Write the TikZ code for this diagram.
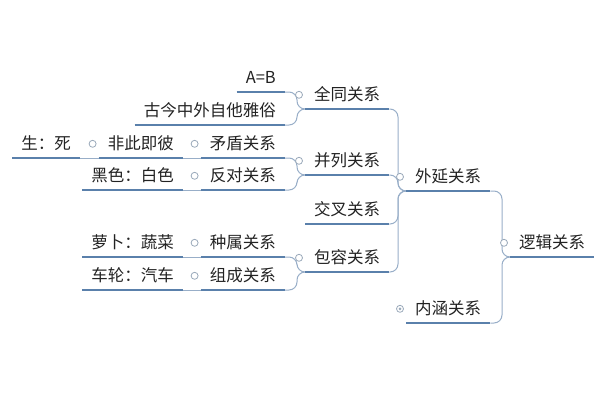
\documentclass[tikz,border=0pt]{standalone}
\usepackage{fontspec}
\setmainfont{Noto Sans CJK SC}
\usepackage{tikz}
\usetikzlibrary{calc,positioning}
\definecolor{LineBlue}{HTML}{5A80AB}
\definecolor{BranchBlue}{HTML}{98AEC8}
\definecolor{KnobGray}{HTML}{9AA9BA}
\definecolor{TextGray}{HTML}{222222}

\begin{document}
\begin{tikzpicture}[
        x=1pt, y=-1pt,
        topic/.style={inner xsep=9pt, inner ysep=4pt, text height=12pt, text depth=4pt, font=\fontsize{16.5}{18}\selectfont, text=TextGray},
        rtopic/.style={topic, anchor=south west},
        ltopic/.style={topic, anchor=south east},
        uline/.style={LineBlue, line width=2.2pt},
        branch/.style={BranchBlue, line width=1pt, rounded corners=8pt},
        knob/.style={KnobGray, fill=white, line width=0.8pt}
      ]
        \useasboundingbox (0,0) rectangle (600,400);

        % Right side topics
        \node[rtopic] (logic) at (510,257) {逻辑关系};
        \node[rtopic] (ext) at (406,191) {外延关系};
        \node[rtopic] (int) at (406,323) {内涵关系};
        \node[rtopic] (same) at (305,109) {全同关系};
        \node[rtopic] (para) at (305,175) {并列关系};
        \node[rtopic] (cross) at (305,224) {交叉关系};
        \node[rtopic] (incl) at (305,272) {包容关系};

        % Left side topics
        \node[ltopic] (ab) at (285,92) {A=B};
        \node[ltopic] (gujin) at (285,125) {古今中外自他雅俗};
        \node[ltopic] (contra) at (285,158) {矛盾关系};
        \node[ltopic] (oppo) at (285,190) {反对关系};
        \node[ltopic] (genus) at (285,257) {种属关系};
        \node[ltopic] (comp) at (285,290) {组成关系};
        \node[ltopic] (either) at (183,158) {非此即彼};
        \node[ltopic] (life) at (80,158) {生：死};
        \node[ltopic] (color) at (183,190) {黑色：白色};
        \node[ltopic] (radish) at (183,257) {萝卜：蔬菜};
        \node[ltopic] (wheel) at (183,290) {车轮：汽车};

        % Bracket branches
        \foreach \c/\p in {ext/logic, int/logic, same/ext, para/ext, cross/ext, incl/ext,
                           ab/same, gujin/same, contra/para, oppo/para, genus/incl, comp/incl}
          \draw[branch] (\c.south east) -| ($(\p.south west)+(-8,0)$) -- (\p.south west);

        % Straight branches
        \foreach \c/\p in {either/contra, life/either, color/oppo, radish/genus, wheel/comp}
          \draw[branch] (\c.south east) -- (\p.south west);

        % Underlines
        \foreach \n in {logic,ext,int,same,para,cross,incl,ab,gujin,contra,oppo,genus,comp,either,life,color,radish,wheel}
          \draw[uline] (\n.south west) -- (\n.south east);

        % Collapse knobs
        \foreach \n in {logic,ext,int,same,para,incl,contra,oppo,genus,comp,either}
          \draw[knob] ($(\n.west)+(-6,-2)$) circle (3.5);
        \fill[KnobGray] ($(int.west)+(-6,-2)$) circle (1.5);

      \end{tikzpicture}
\end{document}
